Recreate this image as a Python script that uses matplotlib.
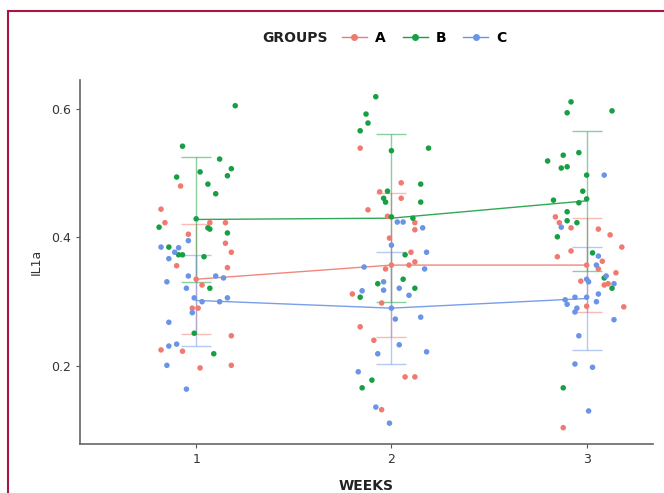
import matplotlib.pyplot as plt
from matplotlib.lines import Line2D
from matplotlib.patches import Rectangle

weeks = [1, 2, 3]
groups = ['A', 'B', 'C']
colors = {'A': '#F07A70', 'B': '#17A043', 'C': '#6A94E8'}

# group means and SD per week
means = {'A': [0.335, 0.357, 0.357],
         'B': [0.428, 0.430, 0.457],
         'C': [0.302, 0.290, 0.305]}
sds = {'A': [0.086, 0.112, 0.073],
       'B': [0.097, 0.131, 0.109],
       'C': [0.071, 0.087, 0.080]}

# jittered raw points: (offset from week, value)
pts = {
    ('A', 1): [(-0.08, 0.480), (-0.18, 0.444), (-0.16, 0.423), (0.07, 0.423), (0.15, 0.423),
               (-0.04, 0.405), (0.15, 0.391), (0.18, 0.377), (-0.10, 0.356), (0.16, 0.353),
               (0.00, 0.335), (0.03, 0.326), (-0.02, 0.290), (0.01, 0.290), (0.18, 0.247),
               (-0.18, 0.225), (-0.07, 0.223), (0.02, 0.197), (0.18, 0.201)],
    ('B', 1): [(0.20, 0.605), (-0.07, 0.542), (0.12, 0.522), (0.18, 0.507), (0.02, 0.502),
               (0.16, 0.496), (-0.10, 0.494), (0.06, 0.483), (0.10, 0.468), (0.00, 0.429),
               (0.06, 0.415), (0.07, 0.413), (-0.19, 0.416), (0.16, 0.407), (-0.14, 0.385),
               (-0.09, 0.373), (-0.07, 0.373), (0.04, 0.370), (0.07, 0.321), (-0.01, 0.251),
               (0.09, 0.219)],
    ('C', 1): [(-0.04, 0.395), (-0.18, 0.385), (-0.09, 0.384), (-0.11, 0.377), (-0.14, 0.367),
               (-0.15, 0.331), (-0.04, 0.340), (0.10, 0.340), (0.14, 0.337), (-0.05, 0.321),
               (-0.01, 0.306), (0.03, 0.300), (0.12, 0.300), (0.16, 0.306), (-0.02, 0.283),
               (-0.14, 0.268), (-0.14, 0.231), (-0.10, 0.234), (-0.15, 0.201), (-0.05, 0.164)],
    ('A', 2): [(-0.16, 0.539), (0.05, 0.485), (-0.06, 0.471), (0.05, 0.461), (-0.12, 0.443),
               (-0.02, 0.433), (0.12, 0.423), (0.12, 0.412), (-0.01, 0.399), (0.10, 0.377),
               (0.12, 0.362), (0.09, 0.357), (0.00, 0.357), (-0.03, 0.351), (-0.20, 0.312),
               (-0.05, 0.298), (-0.16, 0.261), (-0.09, 0.240), (0.07, 0.183), (0.12, 0.183),
               (-0.05, 0.132)],
    ('B', 2): [(-0.08, 0.619), (-0.13, 0.592), (-0.12, 0.578), (-0.16, 0.566), (0.00, 0.535),
               (0.19, 0.539), (0.15, 0.483), (-0.02, 0.472), (-0.04, 0.461), (-0.03, 0.455),
               (0.15, 0.455), (0.00, 0.432), (0.11, 0.430), (0.07, 0.373), (0.06, 0.335),
               (-0.07, 0.328), (0.12, 0.321), (-0.16, 0.307), (-0.10, 0.178), (-0.15, 0.166)],
    ('C', 2): [(0.03, 0.424), (0.06, 0.424), (0.16, 0.415), (0.00, 0.388), (0.18, 0.377),
               (-0.14, 0.354), (0.17, 0.351), (-0.04, 0.331), (-0.04, 0.318), (0.04, 0.321),
               (-0.15, 0.317), (0.09, 0.310), (0.00, 0.290), (0.02, 0.273), (0.15, 0.276),
               (0.04, 0.233), (-0.07, 0.219), (0.18, 0.222), (-0.17, 0.191), (-0.08, 0.136),
               (-0.01, 0.111)],
    ('A', 3): [(-0.16, 0.432), (-0.14, 0.423), (-0.08, 0.415), (0.06, 0.413), (0.12, 0.404),
               (0.18, 0.385), (-0.08, 0.379), (-0.15, 0.370), (0.08, 0.363), (0.00, 0.357),
               (0.06, 0.351), (0.15, 0.345), (-0.03, 0.332), (0.09, 0.326), (0.11, 0.328),
               (0.00, 0.293), (0.19, 0.292), (-0.12, 0.104)],
    ('B', 3): [(-0.08, 0.611), (-0.10, 0.594), (0.13, 0.597), (-0.04, 0.532), (-0.12, 0.528),
               (-0.20, 0.519), (-0.13, 0.508), (-0.10, 0.510), (0.00, 0.497), (-0.02, 0.472),
               (0.00, 0.460), (-0.04, 0.454), (-0.17, 0.458), (-0.10, 0.440), (-0.10, 0.426),
               (-0.05, 0.423), (-0.15, 0.401), (0.03, 0.376), (0.09, 0.337), (0.13, 0.321),
               (-0.12, 0.166)],
    ('C', 3): [(0.09, 0.497), (-0.13, 0.416), (0.06, 0.371), (0.05, 0.357), (0.10, 0.340),
               (0.00, 0.335), (0.01, 0.331), (0.14, 0.328), (0.06, 0.312), (-0.06, 0.307),
               (0.00, 0.307), (-0.11, 0.303), (-0.10, 0.296), (0.05, 0.300), (-0.05, 0.290),
               (-0.06, 0.284), (0.14, 0.272), (-0.04, 0.247), (-0.06, 0.203), (0.03, 0.198),
               (0.01, 0.130)],
}

fig = plt.figure(figsize=(6.64, 4.93), dpi=100)
ax = fig.add_axes([0.1205, 0.0994, 0.863, 0.7383])

for g in groups:
    for w in weeks:
        xs = [w + p[0] for p in pts[(g, w)]]
        ys = [p[1] for p in pts[(g, w)]]
        ax.scatter(xs, ys, s=16, color=colors[g], edgecolors='none', zorder=3)

for g in groups:
    ax.plot(weeks, means[g], color=colors[g], lw=1.0, zorder=2, alpha=0.9)
    ax.errorbar(weeks, means[g], yerr=sds[g], fmt='none', ecolor=colors[g],
                elinewidth=1.0, capsize=11, capthick=1.0, alpha=0.5, zorder=2)

ax.set_xlim(0.405, 3.34)
ax.set_ylim(0.0786, 0.645)
ax.set_xticks(weeks)
ax.set_yticks([0.2, 0.4, 0.6])
ax.set_yticklabels(['0.2', '0.4', '0.6'])
ax.tick_params(length=3, width=0.8, colors='#555555', labelcolor='#333333', labelsize=9)
for s in ['top', 'right']:
    ax.spines[s].set_visible(False)
for s in ['left', 'bottom']:
    ax.spines[s].set_color('#666666')
    ax.spines[s].set_linewidth(1.2)

ax.set_ylabel('IL1a', fontsize=9, color='#333333', labelpad=6)
ax.set_xlabel('WEEKS', fontsize=10, fontweight='bold', color='#222222', labelpad=9)

fig.text(0.395, 0.923, 'GROUPS', fontsize=10, fontweight='bold', ha='left', va='center',
         color='#222222')
handles = [Line2D([0], [0], color=colors[g], lw=1, marker='o', markersize=4) for g in groups]
leg = fig.legend(handles, groups, ncol=3, loc='center left', bbox_to_anchor=(0.496, 0.923),
                 frameon=False, handlelength=1.8, columnspacing=1.2, handletextpad=0.6,
                 prop={'weight': 'bold', 'size': 10})

fig.patches.append(Rectangle((8 / 664, -0.1), 1.2, 1 - 11 / 493 + 0.1, transform=fig.transFigure,
                             fill=False, edgecolor='#A8173F', lw=1.5, zorder=10))

fig.savefig('out.png', dpi=100)
